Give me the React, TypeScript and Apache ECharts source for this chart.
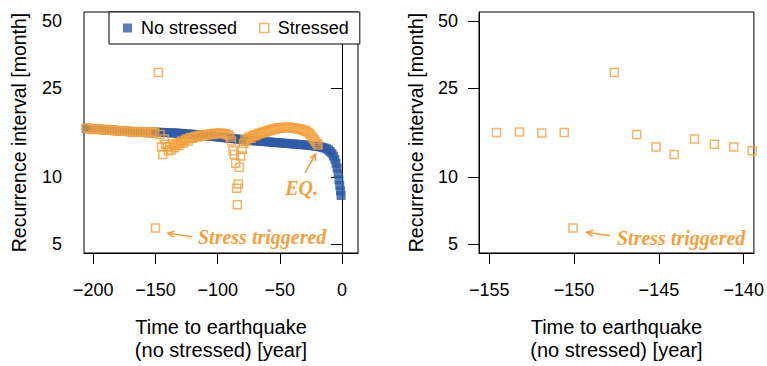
import React, { useEffect, useRef } from "react";
import * as echarts from "echarts";

// Shared part of both runs (identical before the stress step)
const preStressX = [-205.7, -204.4, -203.1, -201.8, -200.5, -199.2, -197.9, -196.6, -195.3, -194.0, -192.7, -191.4, -190.1, -188.8, -187.5, -186.2, -184.9, -183.6, -182.3, -181.0, -179.7, -178.4, -177.1, -175.8, -174.4, -173.1, -171.8, -170.5, -169.2, -167.8, -166.5, -165.2, -163.9, -162.6, -161.2, -159.9, -158.6, -157.2, -155.9, -154.57, -153.22, -151.9, -150.58];
const preStressY = [16.5, 16.5, 16.45, 16.45, 16.4, 16.4, 16.4, 16.35, 16.35, 16.3, 16.3, 16.3, 16.25, 16.25, 16.2, 16.2, 16.2, 16.15, 16.15, 16.1, 16.1, 16.1, 16.05, 16.05, 16.0, 16.0, 16.0, 15.95, 15.95, 15.95, 15.9, 15.9, 15.9, 15.9, 15.85, 15.85, 15.85, 15.8, 15.8, 15.8, 15.9, 15.75, 15.8];

// No stressed run after -150
const noStressTailX = [-149.3, -147.3, -145.3, -143.3, -141.3, -139.3, -137.3, -135.3, -133.3, -131.3, -129.3, -127.3, -125.3, -123.3, -121.3, -119.3, -117.3, -115.3, -113.3, -111.3, -109.3, -107.3, -105.3, -103.3, -101.3, -99.3, -97.3, -95.3, -93.3, -91.3, -89.3, -87.3, -85.3, -83.3, -81.3, -79.3, -77.3, -75.3, -73.3, -71.3, -69.3, -67.3, -65.3, -63.3, -61.3, -59.3, -57.3, -55.3, -53.3, -51.3, -49.3, -47.3, -45.3, -43.3, -41.3, -39.3, -37.3, -35.3, -33.3, -31.3, -29.3, -27.3, -25.3, -23.3, -21.3, -19.3, -17.4, -15.6, -13.9, -12.3, -10.8, -9.4, -8.1, -6.9, -5.8, -4.8, -3.9, -3.1, -2.4, -1.8, -1.2, -0.7];
const noStressTailY = [15.86, 15.85, 15.83, 15.82, 15.8, 15.78, 15.76, 15.74, 15.72, 15.69, 15.66, 15.63, 15.6, 15.57, 15.53, 15.5, 15.46, 15.42, 15.38, 15.34, 15.3, 15.26, 15.22, 15.17, 15.13, 15.09, 15.05, 15.0, 14.96, 14.92, 14.88, 14.84, 14.8, 14.76, 14.72, 14.68, 14.64, 14.6, 14.57, 14.53, 14.5, 14.47, 14.44, 14.41, 14.38, 14.35, 14.32, 14.29, 14.26, 14.23, 14.2, 14.17, 14.14, 14.11, 14.08, 14.05, 14.02, 13.99, 13.96, 13.93, 13.9, 13.86, 13.82, 13.78, 13.74, 13.69, 13.63, 13.56, 13.47, 13.36, 13.2, 13.0, 12.75, 12.4, 12.0, 11.5, 10.95, 10.35, 9.7, 9.15, 8.65, 8.25];

// Stressed run after -150
const stressTailX = [-150.06, -147.63, -146.31, -145.17, -144.1, -142.9, -141.73, -140.59, -139.5, -138.4, -137.2, -136.0, -134.8, -133.6, -132.4, -131.2, -130.0, -128.8, -127.6, -126.4, -125.1, -123.8, -122.5, -121.2, -119.9, -118.6, -117.3, -116.0, -114.7, -113.4, -112.1, -110.8, -109.5, -108.2, -106.9, -105.6, -104.3, -103.0, -101.7, -100.4, -99.1, -97.8, -96.5, -95.2, -93.9, -92.6, -91.3, -90.0, -88.8, -87.7, -86.6, -85.5, -84.7, -84.2, -83.4, -82.4, -81.4, -80.3, -79.2, -78.0, -76.8, -75.6, -74.4, -73.2, -72.0, -70.8, -69.6, -68.3, -67.0, -65.7, -64.4, -63.1, -61.8, -60.5, -59.2, -57.9, -56.5, -55.1, -53.7, -52.3, -50.9, -49.5, -48.1, -46.7, -45.3, -43.9, -42.5, -41.1, -39.7, -38.3, -36.9, -35.5, -34.1, -32.7, -31.3, -29.9, -28.6, -27.3, -26.0, -24.8, -23.6, -22.4, -21.3, -20.2, -19.2];
const stressTailY = [5.9, 29.4, 15.5, 13.6, 12.6, 14.8, 14.0, 13.6, 13.1, 13.7, 13.2, 14.0, 13.5, 13.9, 14.2, 13.8, 14.2, 14.5, 14.2, 14.6, 14.8, 14.5, 14.9, 15.0, 14.9, 15.1, 15.2, 15.1, 15.3, 15.4, 15.3, 15.4, 15.5, 15.4, 15.5, 15.6, 15.5, 15.6, 15.7, 15.6, 15.7, 15.7, 15.7, 15.6, 15.6, 15.5, 15.4, 15.1, 14.5, 13.1, 12.6, 11.5, 8.9, 7.5, 9.3, 11.05, 12.4, 13.3, 14.1, 14.7, 14.5, 14.9, 15.1, 14.9, 15.2, 15.4, 15.3, 15.5, 15.7, 15.6, 15.8, 15.9, 15.8, 16.0, 16.2, 16.1, 16.3, 16.4, 16.3, 16.5, 16.6, 16.5, 16.6, 16.7, 16.6, 16.7, 16.7, 16.6, 16.6, 16.5, 16.5, 16.4, 16.4, 16.3, 16.2, 16.1, 16.0, 15.8, 15.6, 15.3, 15.0, 14.7, 14.4, 14.1, 13.9];

const yTickValues = [5, 10, 25, 50];
const leftXTicks = [-200, -150, -100, -50, 0];
const rightXTicks = [-155, -150, -145, -140];

const BLUE = "#2D5BA8";
const ORANGE = "#F4A03C";
const FONT = "'Liberation Sans', Arial, Helvetica, sans-serif";
const SERIF = "'Liberation Serif', 'Times New Roman', serif";

function toPts(xs: number[], ys: number[]) {
  return xs.map((x, i) => [x, Math.log10(ys[i])]);
}

function arrow(tip: number[], tail: number[]) {
  const dx = tail[0] - tip[0];
  const dy = tail[1] - tip[1];
  const L = Math.hypot(dx, dy);
  const ux = dx / L, uy = dy / L;
  const h = 7, a = Math.PI / 7;
  const c = Math.cos(a), s = Math.sin(a);
  const p1 = [tip[0] + h * (ux * c - uy * s), tip[1] + h * (ux * s + uy * c)];
  const p2 = [tip[0] + h * (ux * c + uy * s), tip[1] + h * (-ux * s + uy * c)];
  return [
    { type: "line", shape: { x1: tail[0], y1: tail[1], x2: tip[0], y2: tip[1] }, style: { stroke: ORANGE, lineWidth: 1.6 } },
    { type: "polyline", shape: { points: [p1, tip, p2] }, style: { stroke: ORANGE, lineWidth: 1.6, fill: null } },
  ];
}

const fmtX = (v: number) => (v < 0 ? "\u2212" + Math.abs(v) : String(v));
const fmtY = (v: number) => String(Math.round(Math.pow(10, v)));

function xAxisCfg(gridIndex: number, min: number, max: number, ticks: number[]) {
  return {
    type: "value",
    gridIndex,
    min,
    max,
    axisLine: { show: true, lineStyle: { color: "#000", width: 1 } },
    splitLine: { show: false },
    axisTick: { show: true, customValues: ticks, length: 11, lineStyle: { color: "#000", width: 1 } },
    axisLabel: { customValues: ticks, formatter: fmtX, margin: 28, fontSize: 18, color: "#000", fontFamily: FONT },
    name: "Time to earthquake\n(no stressed) [year]",
    nameLocation: "middle",
    nameGap: 62,
    nameTextStyle: { fontSize: 20, color: "#000", fontFamily: FONT, lineHeight: 23 },
  };
}

function yAxisCfg(gridIndex: number, labelMargin: number, nameGap: number) {
  const ticks = yTickValues.map((v) => Math.log10(v));
  return {
    type: "value",
    gridIndex,
    min: Math.log10(5) - 0.04,
    max: Math.log10(50) + 0.04,
    axisLine: { show: true, lineStyle: { color: "#000", width: 1 } },
    splitLine: { show: false },
    axisTick: { show: true, customValues: ticks, length: 11, lineStyle: { color: "#000", width: 1 } },
    axisLabel: { customValues: ticks, formatter: fmtY, margin: labelMargin, fontSize: 18, color: "#000", fontFamily: FONT },
    name: "Recurrence interval [month]",
    nameLocation: "middle",
    nameGap,
    nameTextStyle: { fontSize: 19.5, color: "#000", fontFamily: FONT },
  };
}

export default function App() {
  const ref = useRef<HTMLDivElement>(null);
  useEffect(() => {
    if (!ref.current) return;
    const chart = echarts.init(ref.current, null, { renderer: "svg" });
    const noStressed = toPts(preStressX.concat(noStressTailX), preStressY.concat(noStressTailY));
    const stressed = toPts(preStressX.concat(stressTailX), preStressY.concat(stressTailY));
    const hollow = { color: "rgba(0,0,0,0)", borderColor: ORANGE, borderWidth: 1.5 };
    const annText = (x: number, y: number, text: string, align: string) => ({
      type: "text",
      x,
      y,
      style: { text, fill: ORANGE, font: `italic bold 20px ${SERIF}`, textAlign: align, textVerticalAlign: "middle" },
    });
    chart.setOption({
      animation: false,
      backgroundColor: "#fff",
      textStyle: { fontFamily: FONT },
      grid: [
        { left: 84, top: 12, width: 274, height: 245, show: true, borderColor: "#000", borderWidth: 1, backgroundColor: "transparent" },
        { left: 479, top: 12, width: 275, height: 245, show: true, borderColor: "#000", borderWidth: 1, backgroundColor: "transparent" },
      ],
      xAxis: [xAxisCfg(0, -207.5, 12.9, leftXTicks), xAxisCfg(1, -155.6, -139.4, rightXTicks)],
      yAxis: [yAxisCfg(0, 22, 55), yAxisCfg(1, 21, 53)],
      legend: {
        left: 109,
        top: 12,
        orient: "horizontal",
        padding: [7, 11, 7, 14],
        itemGap: 22,
        itemWidth: 9,
        itemHeight: 9,
        borderColor: "#000",
        borderWidth: 1,
        borderRadius: 0,
        backgroundColor: "#fff",
        selectedMode: false,
        textStyle: { fontSize: 18, color: "#000", fontFamily: FONT, padding: [0, 0, 0, 4] },
        data: [
          { name: "No stressed", icon: "rect", itemStyle: { color: BLUE } },
          { name: "Stressed", icon: "rect", itemStyle: hollow },
        ],
      },
      series: [
        {
          name: "No stressed",
          type: "scatter",
          xAxisIndex: 0,
          yAxisIndex: 0,
          symbol: "rect",
          symbolSize: 9,
          itemStyle: { color: BLUE },
          data: noStressed,
          z: 2,
        },
        {
          name: "Stressed",
          type: "scatter",
          xAxisIndex: 0,
          yAxisIndex: 0,
          symbol: "rect",
          symbolSize: 8,
          itemStyle: hollow,
          data: stressed,
          z: 3,
        },
        {
          name: "Stressed",
          type: "scatter",
          xAxisIndex: 1,
          yAxisIndex: 1,
          symbol: "rect",
          symbolSize: 8,
          itemStyle: hollow,
          data: stressed,
          z: 3,
        },
      ],
      graphic: [
        annText(198, 237, "Stress triggered", "left"),
        ...arrow([168, 233.3], [192, 236.7]),
        annText(318, 188, "EQ.", "right"),
        ...arrow([315.5, 154], [305, 173]),
        annText(617, 238, "Stress triggered", "left"),
        ...arrow([586.7, 232.3], [610, 235.7]),
      ],
    });
    return () => chart.dispose();
  }, []);
  return (
    <div
      ref={ref}
      style={{ position: "absolute", left: 0, top: 0, width: 767, height: 366, background: "#fff" }}
    />
  );
}
